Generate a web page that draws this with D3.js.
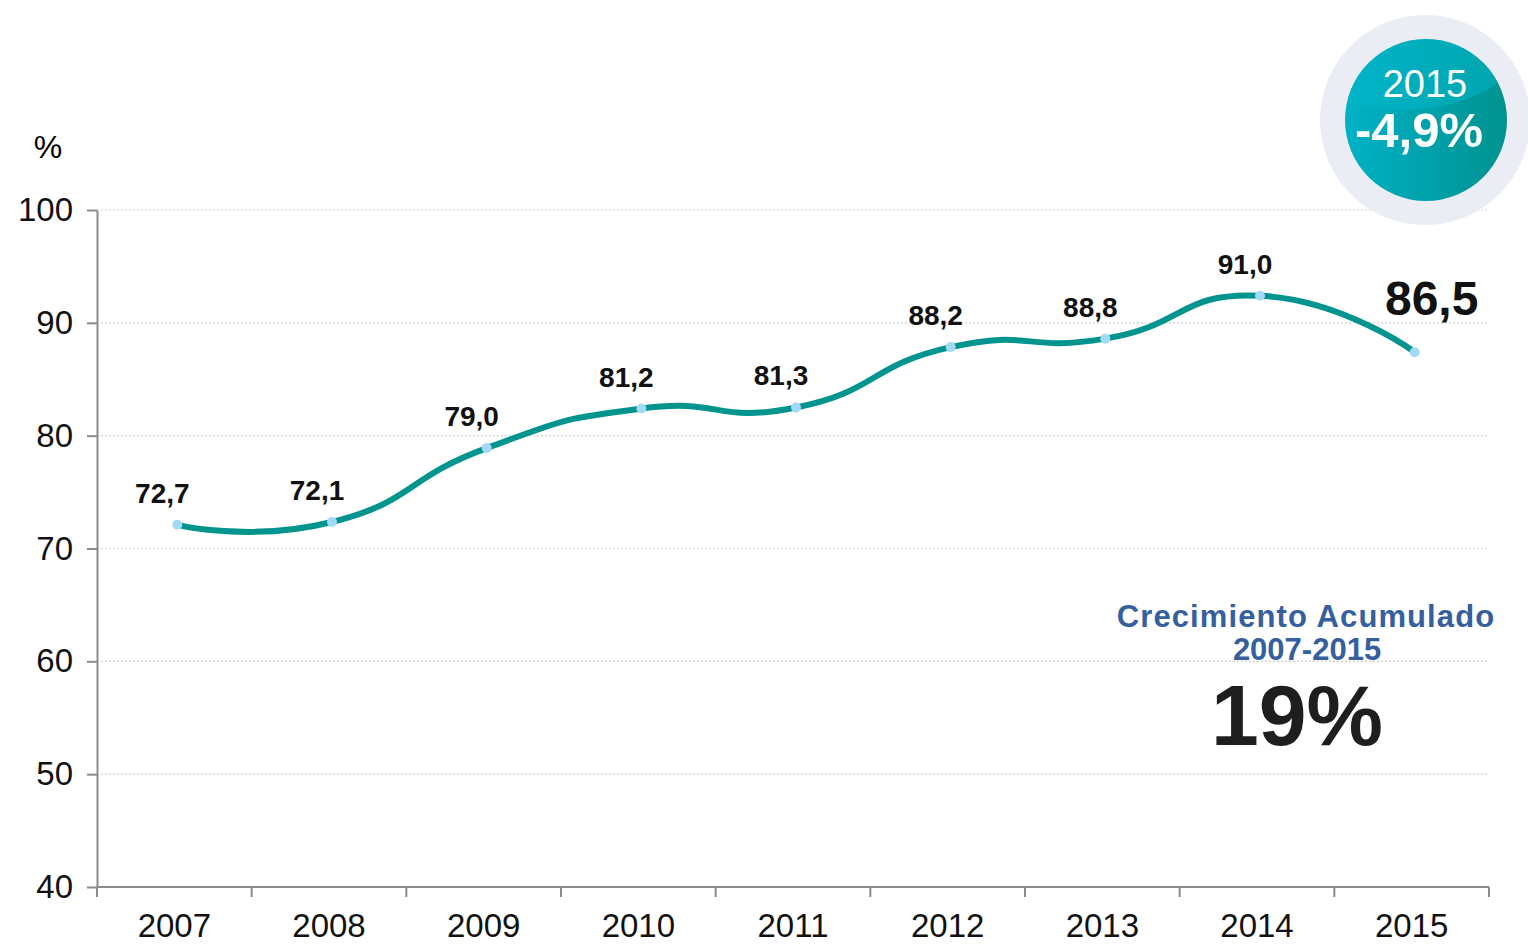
<!DOCTYPE html>
<html>
<head>
<meta charset="utf-8">
<script src="https://cdn.jsdelivr.net/npm/d3@7"></script>
<style>
  body { margin: 0; background: #fff; }
  svg { font-family: "Liberation Sans", Arial, sans-serif; }
  .axis path, .axis line { stroke: #8c8c8c; stroke-width: 2; }
  .axis text { font-size: 33px; fill: #111; }
</style>
</head>
<body>
<script>
// Data
var years = ["2007", "2008", "2009", "2010", "2011", "2012", "2013", "2014", "2015"];
var plotted = [72.1, 72.35, 78.9, 82.4, 82.5, 87.85, 88.6, 92.4, 87.4];
var labels = ["72,7", "72,1", "79,0", "81,2", "81,3", "88,2", "88,8", "91,0", "86,5"];
var yTicks = [40, 50, 60, 70, 80, 90, 100];

// Set the dimensions of the canvas / graph
var margin = { top: 210, right: 39, bottom: 58, left: 97 },
    width = 1528 - margin.left - margin.right,
    height = 945 - margin.top - margin.bottom;

var x = d3.scaleBand().domain(years).range([0, width]);
var y = d3.scaleLinear().domain([40, 100]).range([height, 0]);

var svg = d3.select("body")
    .append("svg")
    .attr("width", 1528)
    .attr("height", 945);

var g = svg.append("g")
    .attr("transform", "translate(" + margin.left + "," + margin.top + ")");

// gridlines
g.selectAll(".grid")
    .data(yTicks.filter(function (d) { return d > 40; }))
    .enter().append("line")
    .attr("x1", 0).attr("x2", width)
    .attr("y1", function (d) { return y(d); })
    .attr("y2", function (d) { return y(d); })
    .style("stroke", "#cfcfcf")
    .style("stroke-width", 1.2)
    .style("stroke-dasharray", "2,2");

// Y axis
var yAxis = d3.axisLeft(y).tickValues(yTicks).tickSize(10).tickSizeOuter(0).tickPadding(14);
g.append("g").attr("class", "axis").call(yAxis);

// X axis, ticks at band boundaries
var xAxis = d3.axisBottom(x).tickSize(0).tickPadding(27);
var xa = g.append("g").attr("class", "axis")
    .attr("transform", "translate(0," + height + ")")
    .call(xAxis);
xa.select(".domain").attr("d", "M0,0H" + width);
xa.selectAll(".bound")
    .data(years.concat(["end"]))
    .enter().append("line")
    .attr("x1", function (d, i) { return i * x.step(); })
    .attr("x2", function (d, i) { return i * x.step(); })
    .attr("y1", 0).attr("y2", 10);

svg.append("text")
    .attr("x", 48).attr("y", 158)
    .attr("text-anchor", "middle")
    .style("font-size", "32px")
    .text("%");

// line (smoothed like the original spreadsheet curve)
var line = d3.line()
    .curve(d3.curveCardinal.tension(-0.6))
    .x(function (d, i) { return x(years[i]) + x.bandwidth() / 2 + 3; })
    .y(function (d) { return y(d); });

g.append("path")
    .datum(plotted)
    .attr("d", line)
    .style("fill", "none")
    .style("stroke", "#00948f")
    .style("stroke-width", 6);

g.selectAll(".dot")
    .data(plotted)
    .enter().append("circle")
    .attr("cx", function (d, i) { return x(years[i]) + x.bandwidth() / 2 + 3; })
    .attr("cy", function (d) { return y(d); })
    .attr("r", 5)
    .style("fill", "#a3d9f5");

// value labels
g.selectAll(".lbl")
    .data(labels)
    .enter().append("text")
    .attr("x", function (d, i) {
        return x(years[i]) + x.bandwidth() / 2 + (i === labels.length - 1 ? 20 : -12);
    })
    .attr("y", function (d, i) {
        return y(plotted[i]) + (i === labels.length - 1 ? -37 : -22);
    })
    .attr("text-anchor", "middle")
    .style("font-weight", "bold")
    .style("font-size", function (d, i) { return i === labels.length - 1 ? "48px" : "28px"; })
    .style("fill", "#111")
    .text(function (d) { return d; });

// accumulated growth note
svg.append("text")
    .attr("x", 1306).attr("y", 627)
    .attr("text-anchor", "middle")
    .style("font-weight", "bold").style("font-size", "31px")
    .style("letter-spacing", "1.1px")
    .style("fill", "#365f9e")
    .text("Crecimiento Acumulado");
svg.append("text")
    .attr("x", 1307).attr("y", 660)
    .attr("text-anchor", "middle")
    .style("font-weight", "bold").style("font-size", "31px")
    .style("fill", "#365f9e")
    .text("2007-2015");
svg.append("text")
    .attr("x", 1297).attr("y", 745)
    .attr("text-anchor", "middle")
    .style("font-weight", "bold").style("font-size", "86px")
    .style("fill", "#1e1e1e")
    .text("19%");

// badge
var defs = svg.append("defs");
var grad = defs.append("linearGradient").attr("id", "teal")
    .attr("x1", "0").attr("x2", "1").attr("y1", "0").attr("y2", "0");
grad.append("stop").attr("offset", "0%").attr("stop-color", "#00b2c7");
grad.append("stop").attr("offset", "100%").attr("stop-color", "#00928f");
defs.append("clipPath").attr("id", "badgeClip")
    .append("circle").attr("cx", 1426).attr("cy", 120).attr("r", 81);

svg.append("circle")
    .attr("cx", 1425).attr("cy", 120).attr("r", 105)
    .style("fill", "#eaedf3");
svg.append("circle")
    .attr("cx", 1426).attr("cy", 120).attr("r", 81)
    .style("fill", "url(#teal)");
svg.append("ellipse")
    .attr("clip-path", "url(#badgeClip)")
    .attr("cx", 1405).attr("cy", 20).attr("rx", 130).attr("ry", 90)
    .style("fill", "#00b8cc").style("opacity", 0.5);

svg.append("text")
    .attr("x", 1425).attr("y", 97)
    .attr("text-anchor", "middle")
    .style("font-size", "38px").style("fill", "#fff")
    .text("2015");
svg.append("text")
    .attr("x", 1419).attr("y", 147)
    .attr("text-anchor", "middle")
    .style("font-size", "49px").style("font-weight", "bold").style("fill", "#fff")
    .text("-4,9%");
</script>
</body>
</html>
